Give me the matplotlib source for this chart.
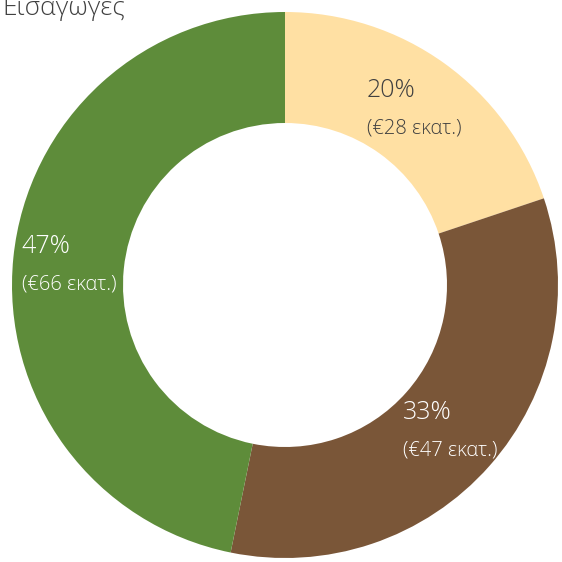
import numpy as np
import matplotlib.pyplot as plt

# Imports by origin, € millions
title = 'Εισαγωγές'
values = [28, 47, 66]
amount_labels = ['(€28 εκατ.)', '(€47 εκατ.)', '(€66 εκατ.)']
colors = ['#FFE0A3', '#7A5638', '#5E8C3A']
text_colors = ['#404040', '#FFFFFF', '#FFFFFF']

plt.rcParams['font.family'] = ['Open Sans', 'DejaVu Sans']

fig = plt.figure(figsize=(5.62, 5.62), dpi=100)
ax = fig.add_axes([0, 0, 1, 1])

cx, cy = 285, 277
R = 273
wedges, _ = ax.pie(values, colors=colors, startangle=90, counterclock=False,
                   radius=R, center=(cx, cy), frame=True,
                   wedgeprops=dict(width=R - 162, linewidth=0))
ax.set_xlim(0, 562)
ax.set_ylim(0, 562)
ax.set_aspect('equal')
ax.axis('off')

total = sum(values)
for w, v, amt, tc in zip(wedges, values, amount_labels, text_colors):
    mid = np.deg2rad((w.theta1 + w.theta2) / 2)
    x = cx + 0.8 * R * np.cos(mid)
    y = cy + 0.8 * R * np.sin(mid)
    ax.text(x - 46, y + 17, f'{round(100 * v / total)}%', ha='left', va='center',
            fontsize=18, color=tc, fontweight='light')
    ax.text(x - 46, y - 21, amt, ha='left', va='center', fontsize=14.5,
            color=tc, fontweight='light')

fig.text(2 / 562, 1 - 15 / 562, title, ha='left', va='baseline', fontsize=19,
         color='#404040', fontweight='light')

fig.savefig('out.png', dpi=100, facecolor='white')
